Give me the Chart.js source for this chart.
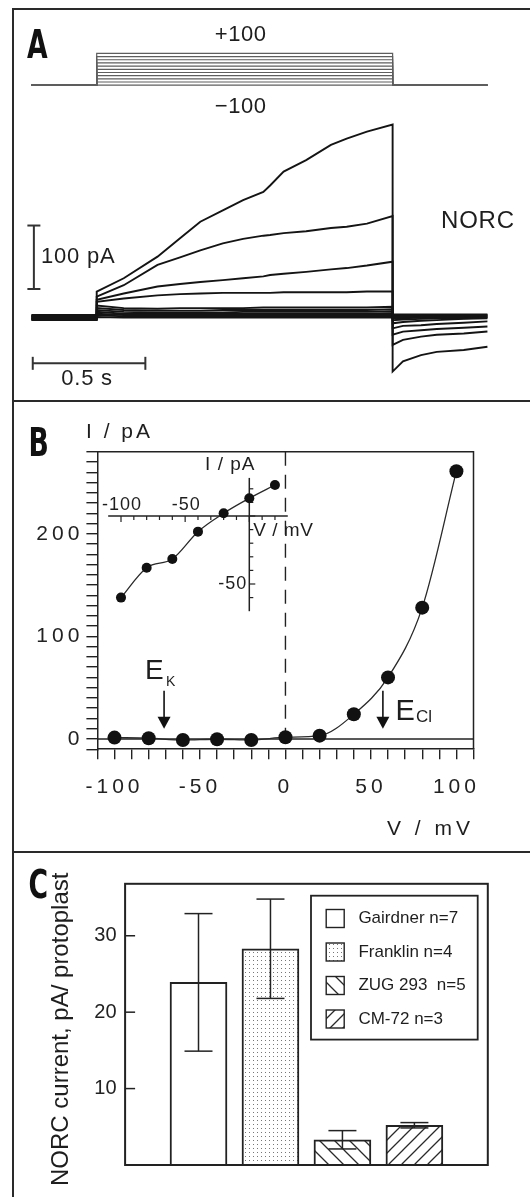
<!DOCTYPE html>
<html>
<head>
<meta charset="utf-8">
<script src="https://cdn.jsdelivr.net/npm/chart.js@4.4.1/dist/chart.umd.min.js"></script>
<style>
  html, body { margin: 0; padding: 0; background: #fff; }
  #page { position: relative; width: 530px; height: 1197px; overflow: hidden; }
  canvas { position: absolute; left: 0; }
  .frame { position: absolute; left: 12px; width: 600px; border-left: 2px solid #2a2a2a; border-top: 2px solid #2a2a2a; }
</style>
</head>
<body>
<div id="page">
  <canvas id="panelA" width="530" height="401" style="top:0"></canvas>
  <canvas id="panelB" width="530" height="450" style="top:401px"></canvas>
  <canvas id="panelC" width="530" height="346" style="top:851px"></canvas>
  <div class="frame" style="top:8px;height:392px"></div>
  <div class="frame" style="top:400px;height:451px"></div>
  <div class="frame" style="top:851px;height:400px"></div>
</div>
<script>
// ---------- panel A: NORC current traces ----------
const stepVoltages = [100, 80, 60, 40, 20, 0, -20, -40, -60, -80, -100]; // mV
const holdingVoltage = -100;
const pulseOn = 0.29, pulseOff = 1.604, sweepEnd = 2.025; // s
const pulseTimes = [0.29, 0.41, 0.56, 0.66, 0.75, 0.85, 0.94, 1.03, 1.06, 1.12, 1.22, 1.33, 1.40, 1.49, 1.604];
const tailTimes = [1.604, 1.65, 1.73, 1.80, 1.92, 2.025];
const holdCurrents = [2, -2, 3, -3, 1, -1, 4, -4, 0, 2, -2]; // pA
const pulseCurrents = [
  [41, 62, 96, 125, 151, 169, 185, 198, 208, 230, 248, 272, 282, 293, 304],
  [33, 51, 83, 95, 106, 117, 124, 129, 130, 133, 136, 141, 143, 148, 160],
  [28, 38, 49, 53, 56, 59, 62, 65, 67, 69, 72, 76, 78, 82, 88],
  [25, 30, 35, 37, 38, 39, 39, 39, 39, 40, 40, 40, 40, 41, 41],
  [19, 15, 14, 15, 15, 15, 15, 16, 16, 16, 16, 16, 16, 16, 17],
  [15, 12, 11, 11, 11, 12, 12, 12, 12, 12, 12, 12, 12, 12, 13],
  [12, 9, 8, 8, 8, 8, 9, 9, 9, 9, 9, 9, 9, 9, 10],
  [9, 6, 6, 6, 6, 6, 6, 6, 6, 6, 6, 6, 6, 6, 7],
  [6, 4, 4, 4, 4, 4, 4, 4, 4, 4, 4, 4, 4, 4, 4],
  [4, 2, 2, 2, 2, 2, 2, 2, 2, 2, 2, 2, 2, 2, 2],
  [1, 0, 0, 0, 0, 0, 0, 0, 0, 0, 0, 0, 0, 0, 0]
];
const tailCurrents = [
  [-85, -69, -59, -54, -51, -46],
  [-43, -35, -30, -27, -25, -22],
  [-27, -22, -20, -18, -16, -14],
  [-17, -13, -12, -10, -8, -6],
  [-9, -7, -5, -4, -2, -1],
  [-4, -3, -2, -1, -1, 0],
  [-1, -1, 0, 0, 0, 1],
  [1, 1, 1, 2, 2, 2],
  [2, 3, 3, 3, 3, 3],
  [4, 4, 4, 4, 4, 4],
  [5, 5, 5, 5, 5, 5]
];
const scaleBarCurrent = 100; // pA
const scaleBarTime = 0.5;    // s

// ---------- panel B: I/V relation ----------
const ivVoltages = [-100, -80, -60, -40, -20, 0, 20, 40, 60, 80, 100];
const ivCurrents = [1.3, 0.7, -1, -0.3, -1, 1.7, 3.2, 24, 60, 128, 261];
const insetVoltages = [-100, -80, -60, -40, -20, 0, 20];
const insetCurrents = [-60, -38, -31.6, -11.5, 2, 13, 22.8];
const insetTickLabelsV = [-100, -50];
const insetTickLabelsI = [-50];
const reversalK = -71, reversalCl = 57; // mV

// ---------- panel C: NORC current per line ----------
const lineNames = ['Gairdner', 'Franklin', 'ZUG 293 ', 'CM-72'];
const cellCounts = [7, 4, 5, 3];
const meanCurrent = [23.9, 28.3, 3.3, 5.2];
const errCurrent = [9.0, 6.5, 1.2, 0.35];

Chart.defaults.font.family = "'Liberation Sans', Arial, sans-serif";
Chart.defaults.color = '#222';
Chart.defaults.animation = false;
Chart.defaults.plugins.legend.display = false;
Chart.defaults.plugins.tooltip.enabled = false;

const INK = '#1e1e1e';

// value range so that v1 sits at pixel p1 and v2 at p2 over pixels pa..pb
function axisRange(v1, p1, v2, p2, pa, pb) {
  const k = (v2 - v1) / (p2 - p1);
  const a = v1 + (pa - p1) * k, b = v1 + (pb - p1) * k;
  return { min: Math.min(a, b), max: Math.max(a, b) };
}

function drawText(ctx, str, x, y, o) {
  ctx.save();
  ctx.font = (o.weight || '') + ' ' + o.size + "px 'Liberation Sans', Arial, sans-serif";
  ctx.letterSpacing = (o.spacing || 0) + 'px';
  ctx.fillStyle = o.color || INK;
  ctx.textAlign = o.align || 'left';
  ctx.textBaseline = o.baseline || 'middle';
  ctx.fillText(str, x, y);
  ctx.restore();
}

function panelLetter(ctx, ch, x, baseline) {
  ctx.save();
  ctx.translate(x, baseline);
  ctx.scale(0.76, 1);
  ctx.font = "bold 39px 'Liberation Sans Narrow', 'DejaVu Sans Condensed', sans-serif";
  ctx.letterSpacing = '0px';
  ctx.fillStyle = '#111';
  ctx.textAlign = 'left';
  ctx.textBaseline = 'alphabetic';
  ctx.fillText(ch, 0, 0);
  ctx.restore();
}

function seg(ctx, x1, y1, x2, y2) {
  ctx.beginPath(); ctx.moveTo(x1, y1); ctx.lineTo(x2, y2); ctx.stroke();
}

// ===== panel A =====
const protocolSets = stepVoltages.map(v => ({
  data: [
    {x: 0, y: holdingVoltage}, {x: pulseOn, y: holdingVoltage}, {x: pulseOn, y: v},
    {x: pulseOff, y: v}, {x: pulseOff, y: holdingVoltage}, {x: sweepEnd, y: holdingVoltage}
  ],
  yAxisID: 'yv', showLine: true, pointRadius: 0,
  borderColor: '#5e5e5e', borderWidth: 1.2
}));

const traceSets = stepVoltages.map((v, k) => ({
  data: [{x: 0, y: holdCurrents[k]}, {x: pulseOn, y: holdCurrents[k]}]
    .concat(pulseTimes.map((t, j) => ({x: t, y: pulseCurrents[k][j]})))
    .concat(tailTimes.map((t, j) => ({x: t, y: tailCurrents[k][j]}))),
  yAxisID: 'y', showLine: true, pointRadius: 0,
  borderColor: '#141414', borderWidth: 1.9
}));

const panelAText = {
  id: 'panelAText',
  afterDraw(chart) {
    const ctx = chart.ctx, xs = chart.scales.x, ys = chart.scales.y, yv = chart.scales.yv;
    panelLetter(ctx, 'A', 27, 57.5);

    const vTop = Math.max(...stepVoltages);
    const xMid = xs.getPixelForValue((pulseOn + pulseOff) / 2) - 4;
    drawText(ctx, '+' + vTop, xMid, yv.getPixelForValue(vTop) - 18, {size: 22, align: 'center', spacing: 0.6});
    drawText(ctx, '\u2212' + Math.abs(holdingVoltage), xMid, yv.getPixelForValue(holdingVoltage) + 22, {size: 22, align: 'center', spacing: 0.6});

    // scale bars
    ctx.save();
    ctx.strokeStyle = '#333'; ctx.lineWidth = 2;
    const bx = xs.getPixelForValue(0.011);
    const by0 = ys.getPixelForValue(45), by1 = ys.getPixelForValue(45 + scaleBarCurrent);
    seg(ctx, bx, by0, bx, by1);
    seg(ctx, bx - 6.5, by0, bx + 6.5, by0);
    seg(ctx, bx - 6.5, by1, bx + 6.5, by1);
    const hy = ys.getPixelForValue(-72);
    const hx0 = xs.getPixelForValue(0.006), hx1 = xs.getPixelForValue(0.006 + scaleBarTime);
    seg(ctx, hx0, hy, hx1, hy);
    seg(ctx, hx0, hy - 6.5, hx0, hy + 6.5);
    seg(ctx, hx1, hy - 6.5, hx1, hy + 6.5);
    ctx.restore();

    drawText(ctx, scaleBarCurrent + ' pA', bx + 7, (by0 + by1) / 2, {size: 22, spacing: 0.8});
    drawText(ctx, scaleBarTime + ' s', (hx0 + hx1) / 2 - 2, hy + 16, {size: 22, align: 'center', spacing: 0.8});
    drawText(ctx, 'NORC', 441, 221, {size: 24, spacing: 0.8});
  }
};

new Chart(document.getElementById('panelA'), {
  type: 'scatter',
  data: { datasets: traceSets.concat(protocolSets) },
  options: {
    responsive: false,
    layout: { padding: 0 },
    scales: {
      x: Object.assign({ type: 'linear', display: false }, axisRange(0, 31.4, scaleBarTime, 144, 0, 530)),
      y: Object.assign({ type: 'linear', display: false }, axisRange(0, 317.6, 100, 254.1, 0, 401)),
      yv: Object.assign({ type: 'linear', display: false, position: 'left' }, axisRange(-100, 85.2, 100, 53.4, 0, 401))
    }
  },
  plugins: [panelAText]
});

// ===== panel B =====
const panelBDraw = {
  id: 'panelBDraw',
  beforeDraw(chart) { chart.ctx.letterSpacing = '4px'; },
  beforeDatasetsDraw(chart) {
    const ctx = chart.ctx, a = chart.chartArea, xs = chart.scales.x, ys = chart.scales.y;
    ctx.letterSpacing = '0px';
    ctx.save();
    ctx.strokeStyle = '#222'; ctx.lineWidth = 1.5;
    ctx.beginPath(); ctx.moveTo(a.left, a.top); ctx.lineTo(a.right, a.top); ctx.lineTo(a.right, a.bottom); ctx.stroke();
    const y0 = ys.getPixelForValue(0);
    seg(ctx, a.left, y0, a.right, y0);
    const x0 = xs.getPixelForValue(0);
    ctx.setLineDash([14, 9]); ctx.lineWidth = 1.4;
    seg(ctx, x0, a.top, x0, a.bottom);
    ctx.setLineDash([]);

    // inset axes
    const xi = chart.scales.xi, yi = chart.scales.yi;
    const ix0 = xi.getPixelForValue(0), iy0 = yi.getPixelForValue(0);
    ctx.lineWidth = 1.5;
    seg(ctx, xi.getPixelForValue(-110), iy0, xi.getPixelForValue(30), iy0);
    seg(ctx, ix0, yi.getPixelForValue(-70), ix0, yi.getPixelForValue(28));
    ctx.lineWidth = 1.2;
    for (let v = -100; v <= 20; v += 10) {
      const px = xi.getPixelForValue(v);
      seg(ctx, px, iy0, px, iy0 + (v % 50 === 0 ? 6 : 4));
    }
    for (let i = -60; i <= 20; i += 10) {
      const py = yi.getPixelForValue(i);
      seg(ctx, ix0, py, ix0 + (i % 50 === 0 ? 6 : 4), py);
    }
    ctx.restore();
    insetTickLabelsV.forEach(v => drawText(ctx, String(v), xi.getPixelForValue(v) + 1, iy0 - 11, {size: 18, align: 'center', spacing: 1}));
    insetTickLabelsI.forEach(i => drawText(ctx, String(i), ix0 - 2, yi.getPixelForValue(i), {size: 18, align: 'right', spacing: 1}));
    drawText(ctx, 'I / pA', ix0 - 19, yi.getPixelForValue(28) - 13, {size: 19, align: 'center', spacing: 1});
    drawText(ctx, 'V / mV', ix0 + 4, iy0 + 15, {size: 19, spacing: 0.5});
  },
  afterDraw(chart) {
    const ctx = chart.ctx, xs = chart.scales.x, ys = chart.scales.y;
    ctx.letterSpacing = '0px';
    panelLetter(ctx, 'B', 28.5, 55);
    drawText(ctx, 'I / pA', 86, 31, {size: 21, spacing: 3});
    drawText(ctx, 'V / mV', 474, 428.7, {size: 21, align: 'right', spacing: 4});

    // reversal potential arrows
    const yTop = ys.getPixelForValue(47), yTip = ys.getPixelForValue(10);
    ctx.save();
    ctx.strokeStyle = '#111'; ctx.fillStyle = '#111'; ctx.lineWidth = 1.6;
    [reversalK, reversalCl].forEach(v => {
      const ax = xs.getPixelForValue(v);
      seg(ctx, ax, yTop, ax, yTip - 10);
      ctx.beginPath();
      ctx.moveTo(ax - 6.5, yTip - 12); ctx.lineTo(ax + 6.5, yTip - 12); ctx.lineTo(ax, yTip);
      ctx.closePath(); ctx.fill();
    });
    ctx.restore();
    const axK = xs.getPixelForValue(reversalK), axCl = xs.getPixelForValue(reversalCl);
    drawText(ctx, 'E', axK - 19, yTop - 11.5, {size: 28, baseline: 'alphabetic'});
    drawText(ctx, 'K', axK + 2, yTop - 5, {size: 14, baseline: 'alphabetic'});
    drawText(ctx, 'E', axCl + 12.5, yTop + 29, {size: 29, baseline: 'alphabetic'});
    drawText(ctx, 'Cl', axCl + 33, yTop + 31, {size: 17, baseline: 'alphabetic'});
  }
};

const tickGrid = { drawOnChartArea: false, color: '#222', lineWidth: 1.4 };

new Chart(document.getElementById('panelB'), {
  type: 'scatter',
  data: {
    datasets: [
      {
        data: ivVoltages.map((v, k) => ({x: v, y: ivCurrents[k]})),
        showLine: true, cubicInterpolationMode: 'monotone',
        borderColor: '#2a2a2a', borderWidth: 1.3,
        pointRadius: 7, pointBackgroundColor: '#111', pointBorderColor: '#111', pointBorderWidth: 0
      },
      {
        data: insetVoltages.map((v, k) => ({x: v, y: insetCurrents[k]})),
        xAxisID: 'xi', yAxisID: 'yi',
        showLine: true, cubicInterpolationMode: 'monotone',
        borderColor: '#2a2a2a', borderWidth: 1.3,
        pointRadius: 5, pointBackgroundColor: '#111', pointBorderColor: '#111', pointBorderWidth: 0
      }
    ]
  },
  options: {
    responsive: false,
    layout: { padding: { left: 0, top: 50.7, right: 56.5, bottom: 0 } },
    scales: {
      x: {
        type: 'linear', position: 'bottom', min: -110, max: 110,
        afterFit: s => { s.height = 101.8; },
        grid: Object.assign({ tickLength: 10 }, tickGrid),
        border: { color: '#222', width: 1.5 },
        ticks: {
          stepSize: 10, autoSkip: false, maxRotation: 0, padding: 15,
          font: { size: 21 }, color: '#222',
          callback: v => (v % 50 === 0 ? String(v) : '')
        }
      },
      y: {
        type: 'linear', position: 'left', min: -10, max: 280,
        afterFit: s => { s.width = 97.4; },
        grid: Object.assign({ tickLength: 11 }, tickGrid),
        border: { color: '#222', width: 1.5 },
        ticks: {
          stepSize: 10, autoSkip: false, padding: 3,
          font: { size: 21 }, color: '#222',
          callback: v => (v % 100 === 0 ? String(v) : '')
        }
      },
      xi: Object.assign({ type: 'linear', display: false, position: 'bottom' }, axisRange(0, 249.3, 100, 377.6, 97.4, 473.5)),
      yi: Object.assign({ type: 'linear', display: false, position: 'left' }, axisRange(0, 115, 50, 47, 50.7, 348.2))
    }
  },
  plugins: [panelBDraw]
});

// ===== panel C =====
function makePattern(kind) {
  const size = kind === 'dots' ? 4 : (kind === 'back' ? 15 : 13);
  const c = document.createElement('canvas');
  c.width = size; c.height = size;
  const g = c.getContext('2d');
  g.fillStyle = '#fff';
  g.fillRect(0, 0, size, size);
  if (kind === 'dots') {
    g.fillStyle = '#777';
    g.fillRect(1, 1, 1, 1);
  } else {
    g.strokeStyle = '#2a2a2a'; g.lineWidth = 1.3;
    g.beginPath();
    if (kind === 'back') {
      g.moveTo(-2, -2); g.lineTo(size + 2, size + 2);
      g.moveTo(-2, size - 2); g.lineTo(2, size + 2);
      g.moveTo(size - 2, -2); g.lineTo(size + 2, 2);
    } else {
      g.moveTo(-2, size + 2); g.lineTo(size + 2, -2);
      g.moveTo(-2, 2); g.lineTo(2, -2);
      g.moveTo(size - 2, size + 2); g.lineTo(size + 2, size - 2);
    }
    g.stroke();
  }
  return g.createPattern(c, 'repeat');
}

const barFills = ['#ffffff', makePattern('dots'), makePattern('back'), makePattern('fwd')];

const panelCDraw = {
  id: 'panelCDraw',
  afterDatasetsDraw(chart) {
    const ctx = chart.ctx, a = chart.chartArea, xs = chart.scales.x, ys = chart.scales.y;
    ctx.save();
    ctx.strokeStyle = '#222';
    // error bars
    ctx.lineWidth = 1.5;
    meanCurrent.forEach((m, i) => {
      const x = xs.getPixelForValue(i);
      const yHi = ys.getPixelForValue(m + errCurrent[i]), yLo = ys.getPixelForValue(m - errCurrent[i]);
      seg(ctx, x, yHi, x, yLo);
      seg(ctx, x - 14, yHi, x + 14, yHi);
      seg(ctx, x - 14, yLo, x + 14, yLo);
    });
    // frame and inward ticks
    ctx.lineWidth = 2;
    ctx.strokeRect(a.left, a.top, a.right - a.left, a.bottom - a.top);
    ctx.lineWidth = 1.5;
    ys.ticks.filter(t => t.value > 0 && t.value % 10 === 0).forEach(t => {
      const py = ys.getPixelForValue(t.value);
      seg(ctx, a.left, py, a.left + 10, py);
    });
    // legend
    ctx.lineWidth = 1.8;
    ctx.strokeRect(311, 44.7, 166.7, 143.9);
    ctx.lineWidth = 1.4;
    lineNames.forEach((name, i) => {
      const cy = 67.5 + i * 33.5;
      ctx.fillStyle = barFills[i];
      ctx.fillRect(326.2, cy - 9, 18, 18);
      ctx.strokeRect(326.2, cy - 9, 18, 18);
      drawText(ctx, name + ' n=' + cellCounts[i], 358.4, cy, {size: 17});
    });
    ctx.restore();

    panelLetter(ctx, 'C', 28.5, 47);
    ctx.save();
    ctx.translate(61.7, 178.3);
    ctx.rotate(-Math.PI / 2);
    drawText(ctx, 'NORC current, pA/ protoplast', 0, 0, {size: 24, align: 'center'});
    ctx.restore();
  }
};

new Chart(document.getElementById('panelC'), {
  type: 'bar',
  data: {
    datasets: [{
      data: meanCurrent.map((v, i) => ({x: i, y: v})),
      backgroundColor: barFills,
      borderColor: '#222', borderWidth: 2,
      barThickness: 57
    }]
  },
  options: {
    responsive: false,
    layout: { padding: { left: 0, top: 32.8, right: 42.2, bottom: 32 } },
    scales: {
      x: { type: 'linear', display: false, offset: false, min: -1.02, max: 4.02 },
      y: {
        min: 0, max: 36.8,
        afterFit: s => { s.width = 125.1; },
        grid: { display: false, drawTicks: false },
        border: { display: false },
        ticks: {
          stepSize: 10, padding: 8.5, font: { size: 20 }, color: '#222',
          callback: v => (v > 0 && v % 10 === 0 ? String(v) : '')
        }
      }
    }
  },
  plugins: [panelCDraw]
});
</script>
</body>
</html>
